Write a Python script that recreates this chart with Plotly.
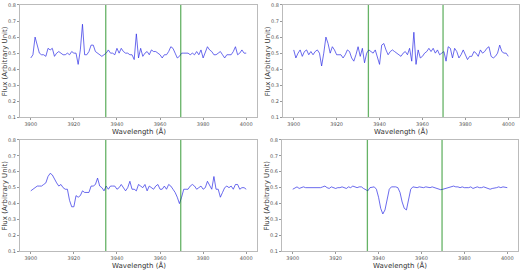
import numpy as np
import plotly.graph_objects as go

wavelength = list(range(3900, 4001))

flux_a = [0.47, 0.49, 0.60, 0.55, 0.50, 0.49, 0.49, 0.48, 0.53, 0.52,
          0.53, 0.48, 0.50, 0.51, 0.50, 0.49, 0.49, 0.50, 0.49, 0.51,
          0.50, 0.50, 0.43, 0.52, 0.68, 0.49, 0.49, 0.51, 0.55, 0.55,
          0.51, 0.50, 0.49, 0.48, 0.49, 0.50, 0.52, 0.50, 0.50, 0.49,
          0.53, 0.50, 0.53, 0.51, 0.50, 0.50, 0.49, 0.49, 0.46, 0.62,
          0.47, 0.53, 0.48, 0.50, 0.51, 0.49, 0.52, 0.51, 0.51, 0.50,
          0.49, 0.47, 0.49, 0.49, 0.51, 0.54, 0.53, 0.50, 0.47, 0.48,
          0.50, 0.50, 0.50, 0.50, 0.49, 0.50, 0.49, 0.51, 0.49, 0.52,
          0.47, 0.50, 0.54, 0.52, 0.51, 0.49, 0.49, 0.50, 0.51, 0.49,
          0.47, 0.49, 0.49, 0.49, 0.51, 0.54, 0.49, 0.50, 0.52, 0.50,
          0.50]

flux_b = [0.52, 0.47, 0.50, 0.52, 0.48, 0.51, 0.52, 0.49, 0.51, 0.49,
          0.51, 0.52, 0.50, 0.42, 0.50, 0.60, 0.56, 0.50, 0.54, 0.52,
          0.49, 0.49, 0.49, 0.47, 0.49, 0.52, 0.51, 0.47, 0.45, 0.49,
          0.54, 0.48, 0.53, 0.44, 0.50, 0.52, 0.51, 0.50, 0.52, 0.47,
          0.43, 0.55, 0.56, 0.52, 0.49, 0.51, 0.52, 0.51, 0.50, 0.49,
          0.48, 0.50, 0.51, 0.49, 0.53, 0.45, 0.63, 0.43, 0.52, 0.47,
          0.48, 0.50, 0.51, 0.53, 0.51, 0.53, 0.50, 0.52, 0.49, 0.50,
          0.51, 0.45, 0.54, 0.53, 0.47, 0.53, 0.51, 0.47, 0.49, 0.52,
          0.49, 0.46, 0.48, 0.48, 0.51, 0.50, 0.48, 0.52, 0.50, 0.51,
          0.53, 0.54, 0.48, 0.47, 0.48, 0.50, 0.55, 0.51, 0.50, 0.50,
          0.48]

flux_c = [0.48, 0.49, 0.50, 0.51, 0.51, 0.51, 0.52, 0.53, 0.57, 0.59,
          0.58, 0.55, 0.53, 0.51, 0.52, 0.50, 0.49, 0.49, 0.42, 0.38,
          0.38, 0.45, 0.44, 0.45, 0.48, 0.47, 0.47, 0.47, 0.51, 0.51,
          0.52, 0.56, 0.51, 0.50, 0.48, 0.51, 0.49, 0.51, 0.51, 0.51,
          0.49, 0.50, 0.52, 0.50, 0.48, 0.50, 0.54, 0.49, 0.49, 0.48,
          0.52, 0.51, 0.50, 0.52, 0.48, 0.51, 0.50, 0.49, 0.51, 0.52,
          0.49, 0.49, 0.51, 0.49, 0.52, 0.51, 0.49, 0.47, 0.44, 0.40,
          0.44, 0.49, 0.49, 0.49, 0.51, 0.52, 0.51, 0.49, 0.50, 0.51,
          0.49, 0.50, 0.54, 0.51, 0.49, 0.57, 0.49, 0.49, 0.44, 0.47,
          0.50, 0.51, 0.50, 0.51, 0.49, 0.52, 0.52, 0.49, 0.50, 0.50,
          0.49]

flux_d = [0.49, 0.50, 0.505, 0.495, 0.50, 0.505, 0.50, 0.50, 0.50, 0.50,
          0.50, 0.50, 0.50, 0.50, 0.505, 0.51, 0.50, 0.495, 0.505, 0.50,
          0.495, 0.50, 0.50, 0.505, 0.50, 0.495, 0.505, 0.50, 0.51, 0.505,
          0.50, 0.505, 0.505, 0.495, 0.485, 0.48, 0.50, 0.505, 0.505, 0.49,
          0.44, 0.37, 0.335, 0.36, 0.43, 0.49, 0.505, 0.505, 0.505, 0.50,
          0.47, 0.41, 0.37, 0.36, 0.42, 0.49, 0.505, 0.50, 0.50, 0.505,
          0.50, 0.50, 0.505, 0.50, 0.50, 0.505, 0.50, 0.495, 0.49, 0.487,
          0.49, 0.495, 0.50, 0.505, 0.51, 0.51, 0.505, 0.505, 0.50, 0.505,
          0.50, 0.50, 0.50, 0.505, 0.495, 0.50, 0.505, 0.50, 0.50, 0.505,
          0.50, 0.495, 0.49, 0.495, 0.50, 0.50, 0.505, 0.50, 0.505, 0.50,
          0.50]

ca_lines = [3934.8, 3969.6]
x_ticks = [3900, 3920, 3940, 3960, 3980, 4000]
y_ticks = [0.1, 0.2, 0.3, 0.4, 0.5, 0.6, 0.7, 0.8]

W, H = 520, 270
panels = [
    (flux_a, (20, 257), (2, 117)),
    (flux_b, (283, 519), (2, 117)),
    (flux_c, (20, 257), (140, 254)),
    (flux_d, (282, 518), (140, 254)),
]

fig = go.Figure()
layout = dict(width=W, height=H, margin=dict(l=0, r=0, t=0, b=0),
              paper_bgcolor="white", plot_bgcolor="white", showlegend=False)
annotations = []
for i, (flux, (x0, x1), (y0, y1)) in enumerate(panels, start=1):
    xa = "x" if i == 1 else f"x{i}"
    ya = "y" if i == 1 else f"y{i}"
    xk = "xaxis" if i == 1 else f"xaxis{i}"
    yk = "yaxis" if i == 1 else f"yaxis{i}"
    fig.add_trace(go.Scatter(x=wavelength, y=flux, mode="lines",
                             line=dict(color="rgba(50,50,230,0.72)", width=1),
                             xaxis=xa, yaxis=ya))
    for c in ca_lines:
        fig.add_trace(go.Scatter(x=[c, c], y=[0.1, 0.8], mode="lines",
                                 line=dict(color="rgba(0,128,0,0.6)", width=1.3),
                                 xaxis=xa, yaxis=ya))
    layout[xk] = dict(domain=[x0 / W, x1 / W], range=[3895, 4005],
                      anchor=ya, tickvals=x_ticks,
                      tickfont=dict(size=5, color="#555", family="DejaVu Sans"),
                      ticks="outside", ticklen=2, tickcolor="#999",
                      showgrid=False, zeroline=False, showline=True,
                      linecolor="#bbb", linewidth=1, mirror=True)
    layout[yk] = dict(domain=[1 - y1 / H, 1 - y0 / H], range=[0.1, 0.8],
                      anchor=xa, tickvals=y_ticks, tickformat=".1f",
                      tickfont=dict(size=5, color="#555", family="DejaVu Sans"),
                      ticks="outside", ticklen=2, tickcolor="#999",
                      showgrid=False, zeroline=False, showline=True,
                      linecolor="#bbb", linewidth=1, mirror=True)
    annotations.append(dict(text="Wavelength (Å)", xref="paper", yref="paper",
                            x=(x0 + x1) / 2 / W, y=1 - (y1 + 7.5) / H,
                            showarrow=False, xanchor="center", yanchor="top",
                            font=dict(size=7, color="#333", family="DejaVu Sans")))
    annotations.append(dict(text="Flux (Arbitrary Unit)", xref="paper", yref="paper",
                            x=(x0 - 15) / W, y=1 - (y0 + y1) / 2 / H, textangle=-90,
                            showarrow=False, xanchor="center", yanchor="middle",
                            font=dict(size=7, color="#333", family="DejaVu Sans")))
layout["annotations"] = annotations
fig.update_layout(**layout)
fig.write_html("out.html")
